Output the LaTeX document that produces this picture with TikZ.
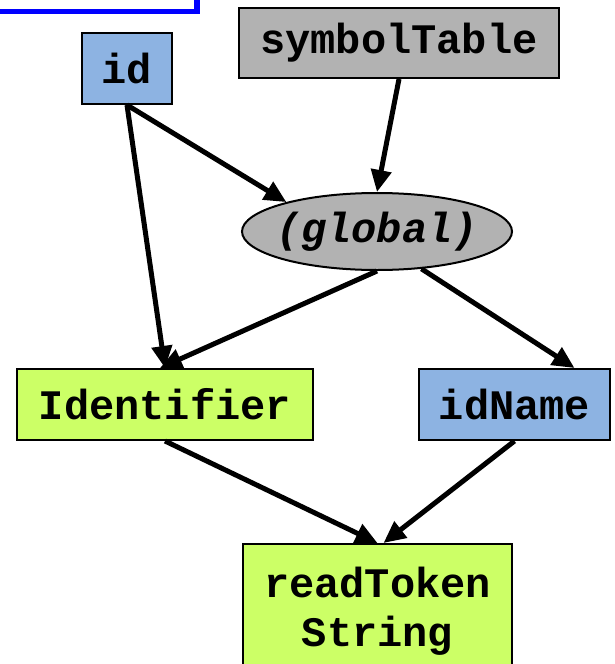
\documentclass[tikz,border=0pt]{standalone}
\usepackage{fontspec}
\usepackage{tikz}
\usetikzlibrary{positioning, arrows.meta, calc, shapes.geometric}
\newfontfamily\codefont{Liberation Mono}
\definecolor{framblue}{HTML}{0000FF}
\definecolor{varblue}{HTML}{8DB3E2}
\definecolor{objgreen}{HTML}{CCFF66}
\definecolor{tablegray}{HTML}{B2B2B2}

\tikzset{
  box/.style={draw=black, line width=2pt, inner sep=0pt,
              font=\codefont\bfseries\fontsize{42}{49}\selectfont, align=center},
  ref/.style={line width=5pt, -{Triangle[length=22pt, width=20pt]}}
}

\begin{document}
\begin{tikzpicture}[x=1pt, y=-1pt]
    \clip (0,0) rectangle (615,664);
    \draw[framblue, line width=5.5pt] (-20,-20) rectangle (197,11.5);

    \node[box, fill=varblue, minimum width=90pt, minimum height=71pt] (id) at (127,68.5) {id};
    \node[box, fill=tablegray, minimum width=320pt, minimum height=70pt] (symtab) at (399,43) {symbolTable};
    \node[box, ellipse, fill=tablegray, inner xsep=-30pt, minimum width=270pt, minimum height=77pt,
          font=\codefont\bfseries\itshape\fontsize{42}{49}\selectfont] (global) at (377,231.5) {(global)};
    \node[box, fill=objgreen, minimum width=296pt, minimum height=71pt] (ident) at (165,404.5) {Identifier};
    \node[box, fill=varblue, minimum width=191pt, minimum height=71pt] (idname) at (514.5,404.5) {idName};
    \node[box, fill=objgreen, minimum width=269pt, minimum height=135pt] (readtok) at (377.5,611.5) {readToken\\String};

    % references
    \draw[ref] (id.south) -- (ident.north);
    \draw[ref] (id.south) -- (global.162);
    \draw[ref] (symtab.south) -- (global.north);
    \draw[ref] (global.south) -- ([xshift=-5pt]ident.north);
    \draw[ref] (global.-40) -- ([xshift=60pt]idname.north);
    \draw[ref] (ident.south) -- (readtok.north);
    \draw[ref] (idname.south) -- ([xshift=6pt]readtok.north);
\end{tikzpicture}
\end{document}
